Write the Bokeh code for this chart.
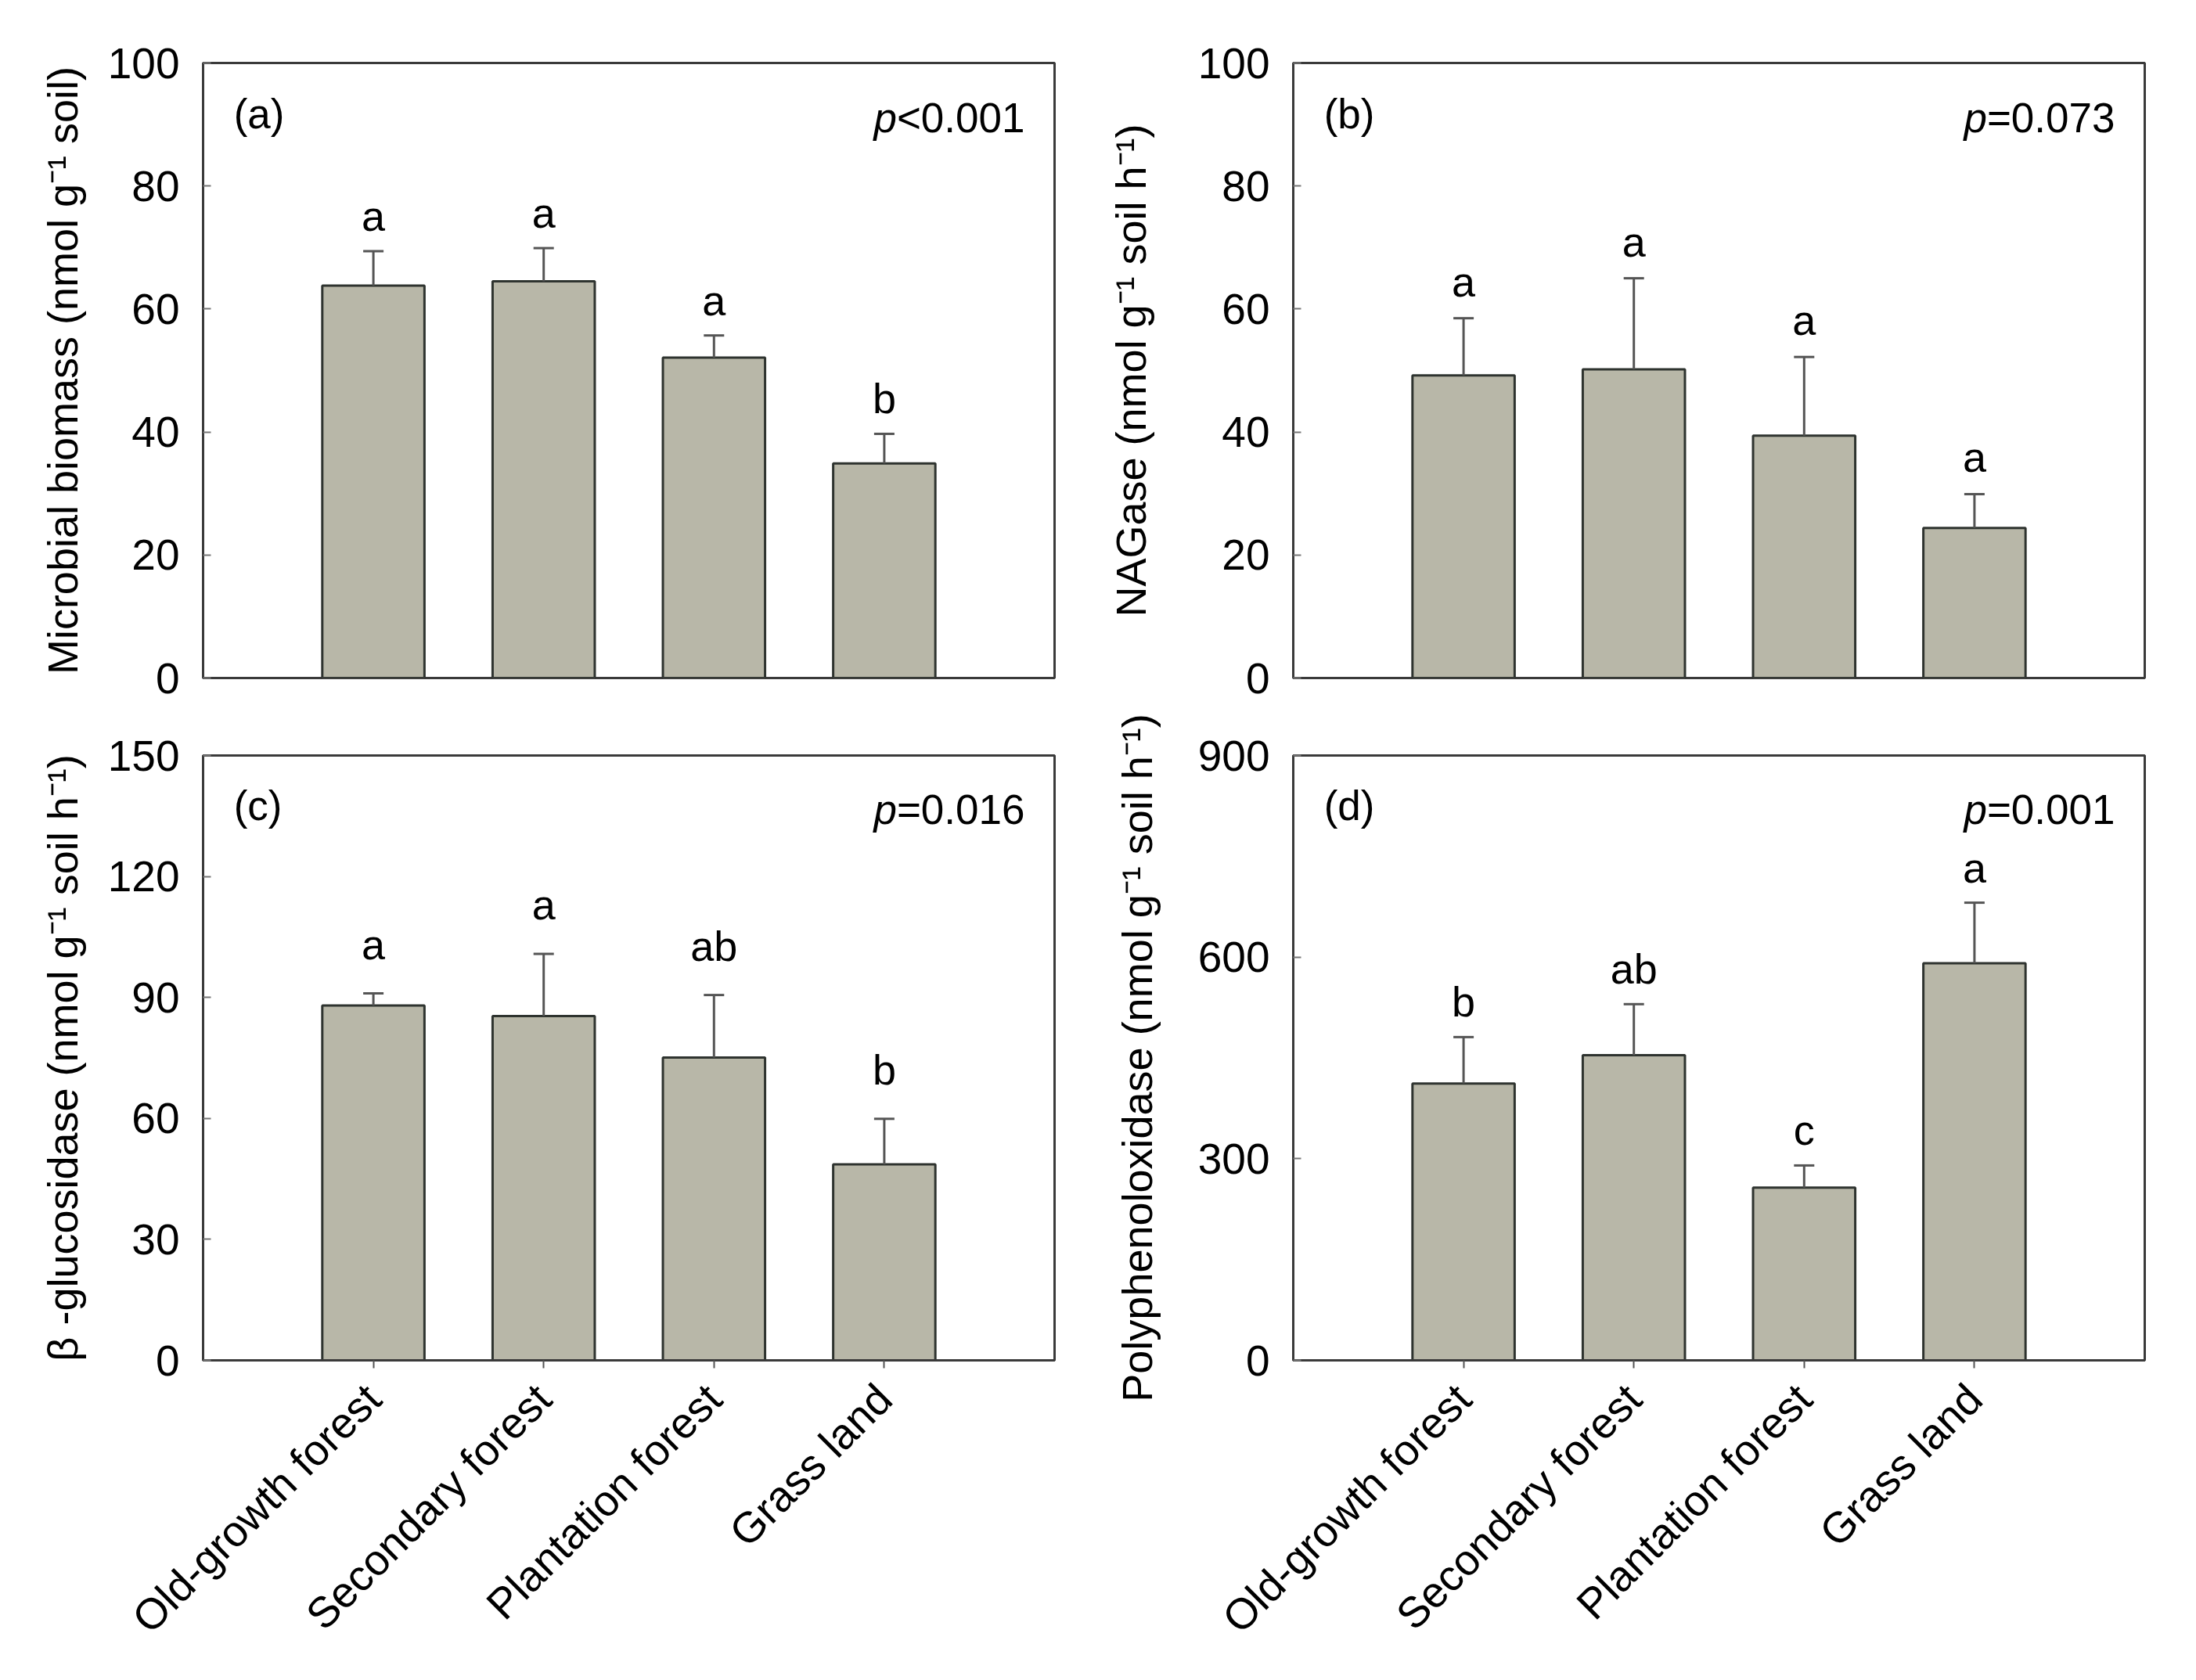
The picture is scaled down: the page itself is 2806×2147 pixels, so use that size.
import math
from bokeh.plotting import figure
from bokeh.models import (ColumnDataSource, FactorRange, FixedTicker, Whisker,
                          TeeHead, Label, Range1d)
from bokeh.layouts import gridplot
from bokeh.embed import file_html
from bokeh.resources import INLINE
from bokeh.core.properties import value

# ---------------- data ----------------
categories = ["Old-growth forest", "Secondary forest", "Plantation forest", "Grass land"]

biomass_mean = [63.8, 64.5, 52.1, 34.9]
biomass_se = [5.6, 5.4, 3.6, 4.8]
biomass_letters = ["a", "a", "a", "b"]

nagase_mean = [49.2, 50.2, 39.4, 24.4]
nagase_se = [9.3, 14.8, 12.8, 5.5]
nagase_letters = ["a", "a", "a", "a"]

bglu_mean = [88.0, 85.4, 75.1, 48.6]
bglu_se = [3.0, 15.4, 15.5, 11.3]
bglu_letters = ["a", "a", "ab", "b"]

ppo_mean = [412, 454, 257, 591]
ppo_se = [69, 76, 33, 90]
ppo_letters = ["b", "ab", "c", "a"]

ticks_ab = [0, 20, 40, 60, 80, 100]
ticks_c = [0, 30, 60, 90, 120, 150]
ticks_d = [0, 300, 600, 900]

panel_tags = ["(a)", "(b)", "(c)", "(d)"]
p_texts = ["<0.001", "=0.073", "=0.016", "=0.001"]
y_labels = [
    "Microbial biomass (nmol g\u207b\u00b9 soil)",
    "NAGase (nmol g\u207b\u00b9 soil h\u207b\u00b9)",
    "\u03b2 -glucosidase (nmol g\u207b\u00b9 soil h\u207b\u00b9)",
    "Polyphenoloxidase (nmol g\u207b\u00b9 soil h\u207b\u00b9)",
]

# ---------------- style ----------------
FONT = "Liberation Sans"
BAR_FILL = "#b8b7a8"
BAR_LINE = "#2e332f"
ERR_COLOR = "#555555"
FRAME = "#3a3a3a"
FRAME_W = 1088
FRAME_H = 786


def make_panel(mean, se, letters, ticks, tag, ptxt, ylabel, *, left, right, top,
               bottom, show_x, letter_off, label_standoff):
    width = left + FRAME_W + right
    height = top + FRAME_H + bottom
    src = ColumnDataSource(dict(
        x=categories,
        mean=mean,
        upper=[m + s for m, s in zip(mean, se)],
        letters=letters,
    ))
    ymax = ticks[-1]
    p = figure(x_range=FactorRange(*categories, range_padding=0.5,
                                   range_padding_units="absolute"),
               y_range=Range1d(0, ymax),
               width=width, height=height,
               min_border_left=left, min_border_right=right,
               min_border_top=top, min_border_bottom=bottom,
               output_backend="svg", toolbar_location=None,
               background_fill_color="white", border_fill_color="white")
    p.xgrid.visible = False
    p.ygrid.visible = False
    p.outline_line_color = FRAME
    p.outline_line_width = 3
    p.outline_line_alpha = 1.0

    p.vbar(x="x", top="mean", bottom=0, width=0.6, source=src,
           fill_color=BAR_FILL, line_color=BAR_LINE, line_width=3)

    wh = Whisker(source=src, base="x", upper="upper", lower="mean",
                 line_color=ERR_COLOR, line_width=3,
                 upper_head=TeeHead(size=26, line_color=ERR_COLOR, line_width=3),
                 lower_head=None, level="overlay")
    p.add_layout(wh)

    p.text(x="x", y="upper", text="letters", source=src,
           text_align="center", text_baseline="alphabetic",
           y_offset=-letter_off,
           text_font=value(FONT), text_font_size="54px", text_color="black")

    # panel tag
    p.add_layout(Label(x=-0.32, y=ymax * (1 - 65 / FRAME_H), text=tag,
                       text_align="left", text_baseline="middle",
                       text_font=FONT, text_font_size="53px",
                       text_color="black"))
    # p-value: italic p followed by the value
    px = 4.5 - 38 / (FRAME_W / 5.0)
    py = ymax * (1 - 70 / FRAME_H)
    p.add_layout(Label(x=px, y=py, text=ptxt, text_align="right",
                       text_baseline="middle", text_font=FONT,
                       text_font_size="53px", text_color="black"))
    p.add_layout(Label(x=px, y=py, x_offset=-3.086 * 53, text="p",
                       text_align="right", text_baseline="middle",
                       text_font=FONT, text_font_size="53px",
                       text_font_style="italic", text_color="black"))

    # y axis
    ya = p.yaxis[0]
    ya.ticker = FixedTicker(ticks=ticks)
    ya.minor_tick_line_color = None
    ya.major_tick_in = 10
    ya.major_tick_out = 0
    ya.major_tick_line_color = "#777777"
    ya.major_tick_line_width = 2
    ya.axis_line_color = FRAME
    ya.axis_line_width = 3
    ya.major_label_text_font = FONT
    ya.major_label_text_font_size = "55px"
    ya.major_label_text_color = "black"
    ya.major_label_standoff = 30
    ya.axis_label = ylabel
    ya.axis_label_text_font = FONT
    ya.axis_label_text_font_size = "54px"
    ya.axis_label_text_font_style = "normal"
    ya.axis_label_text_color = "black"
    ya.axis_label_standoff = label_standoff

    xa = p.xaxis[0]
    if show_x:
        xa.major_label_orientation = math.pi / 4
        xa.major_label_text_font = FONT
        xa.major_label_text_font_size = "55px"
        xa.major_label_text_color = "black"
        xa.major_label_standoff = 30
        xa.major_tick_in = 0
        xa.major_tick_out = 10
        xa.major_tick_line_color = "#555555"
        xa.major_tick_line_width = 2
        xa.minor_tick_line_color = None
        xa.axis_line_color = FRAME
        xa.axis_line_width = 3
    else:
        xa.visible = False
    return p


pa = make_panel(biomass_mean, biomass_se, biomass_letters, ticks_ab,
                panel_tags[0], p_texts[0], y_labels[0],
                left=259, right=50, top=80, bottom=38, show_x=False,
                letter_off=45, label_standoff=25)
pb = make_panel(nagase_mean, nagase_se, nagase_letters, ticks_ab,
                panel_tags[1], p_texts[1], y_labels[1],
                left=255, right=40, top=80, bottom=38, show_x=False,
                letter_off=47, label_standoff=53)
pc = make_panel(bglu_mean, bglu_se, bglu_letters, ticks_c,
                panel_tags[2], p_texts[2], y_labels[2],
                left=259, right=50, top=61, bottom=372, show_x=True,
                letter_off=63, label_standoff=25)
pd_ = make_panel(ppo_mean, ppo_se, ppo_letters, ticks_d,
                 panel_tags[3], p_texts[3], y_labels[3],
                 left=255, right=40, top=61, bottom=372, show_x=True,
                 letter_off=45, label_standoff=45)

grid = gridplot([[pa, pb], [pc, pd_]], toolbar_location=None)

open("out.html", "w").write(file_html(grid, INLINE))
